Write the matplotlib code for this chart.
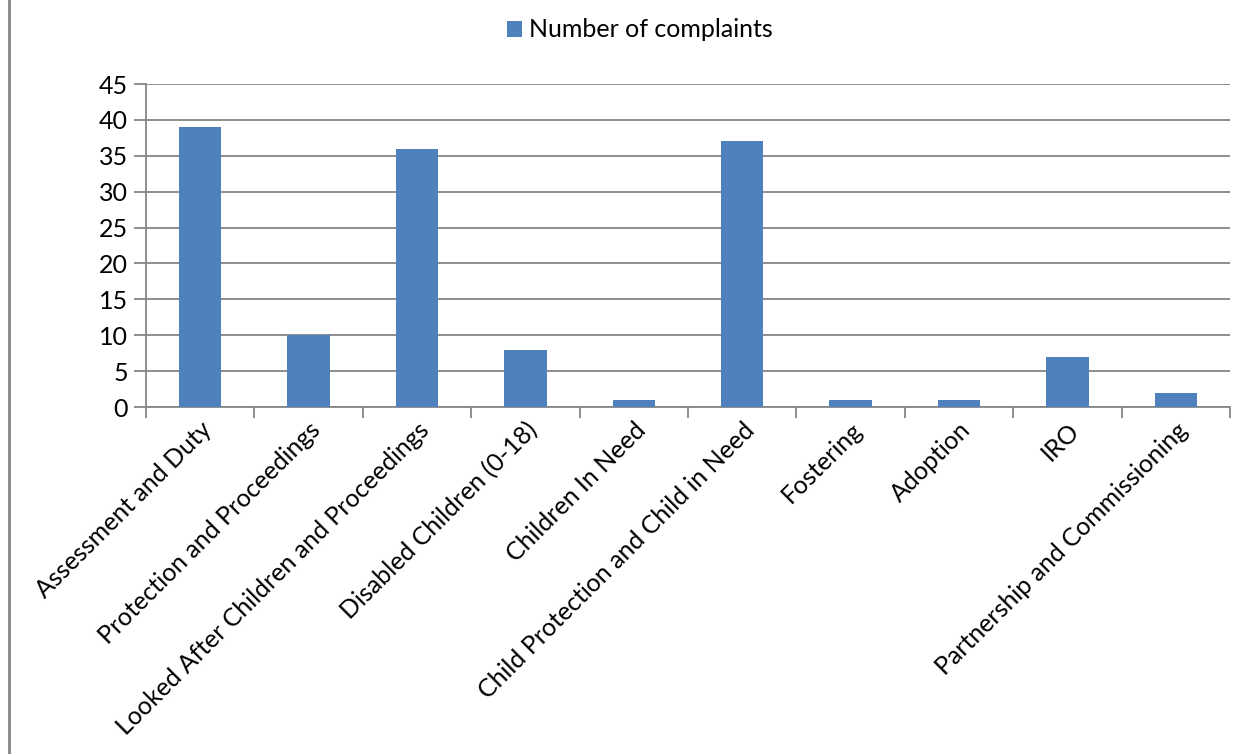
import numpy as np
import matplotlib.pyplot as plt
from matplotlib.lines import Line2D

categories = ['Assessment and Duty', 'Protection and Proceedings',
              'Looked After Children and Proceedings', 'Disabled Children (0-18)',
              'Children In Need', 'Child Protection and Child in Need',
              'Fostering', 'Adoption', 'IRO', 'Partnership and Commissioning']
complaints = [39, 10, 36, 8, 1, 37, 1, 1, 7, 2]

plt.rcParams['font.family'] = ['Lato', 'DejaVu Sans']

fig = plt.figure(figsize=(12.47, 7.54), dpi=100)
ax = fig.add_axes([146/1247, 1 - 407/754, (1230-146)/1247, (407-84)/754])

x = np.arange(len(categories))
ax.bar(x, complaints, width=0.39, color='#4F81BD', label='Number of complaints', zorder=3)

ax.set_xlim(-0.5, len(categories) - 0.5)
ax.set_ylim(0, 45)
ax.set_yticks(range(0, 46, 5))
ax.yaxis.grid(True, color='#868686', linewidth=1.3, zorder=0)
for s in ['top', 'right']:
    ax.spines[s].set_visible(False)
for s in ['left', 'bottom']:
    ax.spines[s].set_color('#868686')
    ax.spines[s].set_linewidth(1.3)

# category boundary ticks
ax.set_xticks(np.arange(len(categories) + 1) - 0.5, minor=True)
ax.set_xticks(x)
ax.set_xticklabels(categories, rotation=45, ha='right', rotation_mode='anchor', fontsize=18)
ax.tick_params(axis='x', which='major', length=0, pad=8)
ax.tick_params(axis='x', which='minor', length=8, width=1.3, color='#868686', direction='out')
ax.tick_params(axis='y', length=9, width=1.3, color='#868686', labelsize=18, pad=4)

fig.legend(*ax.get_legend_handles_labels(), loc='upper center',
           bbox_to_anchor=(640/1247, 1 + 4/754), frameon=False,
           fontsize=18, handlelength=0.6, handleheight=0.6, handletextpad=0.3)

# left edge frame line
fig.add_artist(Line2D([8.5/1247, 8.5/1247], [0, 1], color='#868686', linewidth=2))

fig.savefig('out.png')
